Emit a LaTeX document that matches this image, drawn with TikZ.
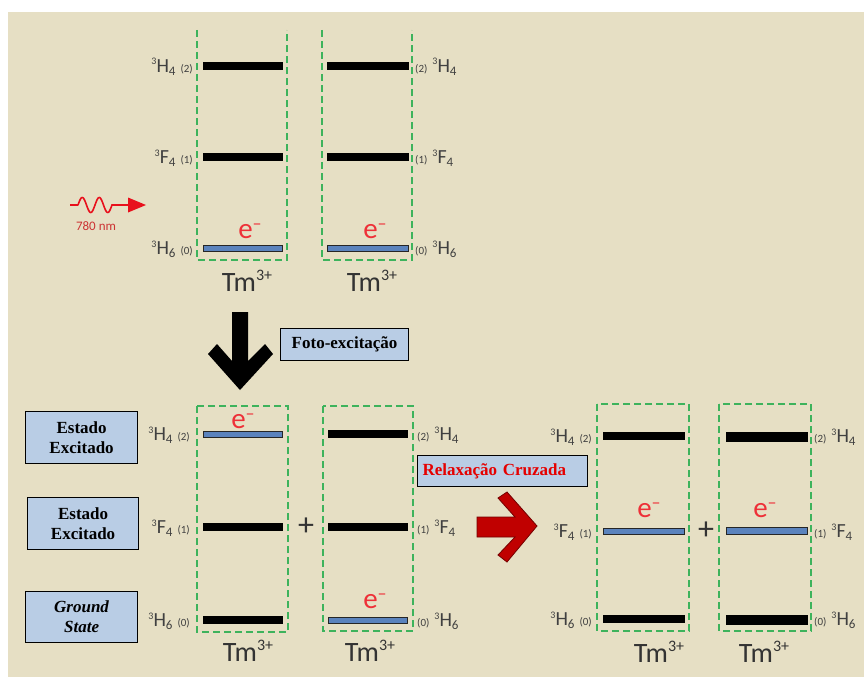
\documentclass[tikz,border=0pt]{standalone}
\usepackage{fontspec}
\setmainfont{Liberation Serif}
\newfontfamily\labfont{Carlito}
\definecolor{bgbeige}{HTML}{E6DFC4}
\definecolor{boxblue}{HTML}{B9CDE5}
\definecolor{dgreen}{HTML}{3DB35C}
\definecolor{barblue}{HTML}{5B83BD}
\definecolor{labgray}{HTML}{404040}
\definecolor{ered}{HTML}{EE3038}
\definecolor{arrred}{HTML}{C00000}
\definecolor{wavered}{HTML}{E8101C}
\newcommand{\lvlL}[3]{\raisebox{7pt}{\fontsize{10}{10}\selectfont 3}#1\raisebox{-3pt}{\fontsize{13}{13}\selectfont #2}\hspace{5pt}{\fontsize{11}{11}\selectfont(#3)}}
\newcommand{\lvlR}[3]{{\fontsize{11}{11}\selectfont(#3)}\hspace{5pt}\raisebox{7pt}{\fontsize{10}{10}\selectfont 3}#1\raisebox{-3pt}{\fontsize{13}{13}\selectfont #2}}
\newcommand{\tmion}{Tm\raisebox{11pt}{\fontsize{16}{16}\selectfont 3+}}
\newcommand{\elec}{e\raisebox{9pt}{\fontsize{18}{18}\selectfont\char"2013}}
\begin{document}
\begin{tikzpicture}[x=1pt,y=-1pt,
  ionbox/.style={draw=dgreen, line width=1.4pt, dash pattern=on 7pt off 4pt},
  bar/.style={fill=black, draw=black, minimum height=7pt, inner sep=0pt, outer sep=0pt},
  ebar/.style={fill=barblue, draw=black!85, line width=0.8pt, minimum height=6pt, inner sep=0pt, outer sep=0pt},
  lvlab/.style={text=labgray, font=\labfont\fontsize{20}{20}\selectfont, inner sep=0pt},
  tmlab/.style={text=black!80, font=\labfont\fontsize{28}{28}\selectfont, inner sep=0pt, anchor=base},
  elab/.style={text=ered, font=\labfont\fontsize{29}{29}\selectfont, inner sep=0pt, anchor=base},
  pluslab/.style={text=black!80, font=\labfont\fontsize{32}{32}\selectfont, inner sep=0pt},
  infobox/.style={draw=black, line width=1.2pt, fill=boxblue, font=\bfseries\fontsize{17}{20}\selectfont, align=center, inner sep=0pt, anchor=north west}
]
\useasboundingbox (0,0) rectangle (864,677);
\fill[white] (0,0) rectangle (864,677);
\fill[bgbeige] (8,12) rectangle (864,677);

% ---------------- top panel ----------------
\draw[ionbox] (197,30) -- (197,260) -- (287,260) -- (287,30);
\draw[ionbox] (322,30) -- (322,260) -- (412,260) -- (412,30);
\node[bar, minimum width=79pt] (t1a) at (242.5,66) {};
\node[bar, minimum width=79pt] (t1b) at (242.5,157) {};
\node[ebar, minimum width=79pt] (t1c) at (242.5,248) {};
\node[bar, minimum width=81pt] (t2a) at (367.5,66) {};
\node[bar, minimum width=81pt] (t2b) at (367.5,157) {};
\node[ebar, minimum width=81pt] (t2c) at (367.5,248) {};
\node[lvlab, anchor=base east] (tl1) at (193,72) {\lvlL{H}{4}{2}};
\node[lvlab, anchor=base east] (tl2) at (193,163) {\lvlL{F}{4}{1}};
\node[lvlab, anchor=base east] (tl3) at (193,254) {\lvlL{H}{6}{0}};
\node[lvlab, anchor=base west] (tr1) at (415,72) {\lvlR{H}{4}{2}};
\node[lvlab, anchor=base west] (tr2) at (415,163) {\lvlR{F}{4}{1}};
\node[lvlab, anchor=base west] (tr3) at (415,254) {\lvlR{H}{6}{0}};
\node[elab] (te1) at (250,238) {\elec};
\node[elab] (te2) at (375,238) {\elec};
\node[tmlab] (ttm1) at (247,291) {\tmion};
\node[tmlab] (ttm2) at (372,291) {\tmion};
% photon
\draw[wavered, line width=1.6pt] (70,205) -- (78,205)
  plot[domain=78:112, samples=60, smooth] (\x, {205 - 7.5*sin(360*(\x-78)/17)}) -- (130,205);
\fill[wavered] (128,197.5) -- (146,205) -- (128,212.5) -- cycle;
\node[text=red!60!gray, font=\labfont\fontsize{13}{13}\selectfont, inner sep=0pt, anchor=base] (nm) at (96,230) {780 nm};

% black arrow
\fill[black] (232,312) -- (248,312) -- (248,361) -- (265,344) -- (273,354) -- (240,390) -- (208,354) -- (217,344) -- (232,361) -- cycle;
\node[infobox, minimum width=128pt, minimum height=32pt] (foto) at (280,328) {Foto-excitação};

% ---------------- bottom-left panel ----------------
\node[infobox, minimum width=112pt, minimum height=52pt] (ee1) at (25,411) {Estado\\Excitado};
\node[infobox, minimum width=111pt, minimum height=52pt] (ee2) at (27,497) {Estado\\Excitado};
\node[infobox, minimum width=112pt, minimum height=51pt, font=\bfseries\itshape\fontsize{17}{20}\selectfont] (gs) at (25,591) {Ground\\State};

\draw[ionbox] (197,406) rectangle (288,632);
\draw[ionbox] (323,406) rectangle (413,631);
\node[ebar, minimum width=79pt] (b1a) at (242.5,434) {};
\node[bar, minimum width=79pt] (b1b) at (242.5,527) {};
\node[bar, minimum width=79pt] (b1c) at (242.5,620) {};
\node[bar, minimum width=79pt] (b2a) at (367.5,434) {};
\node[bar, minimum width=79pt] (b2b) at (367.5,527) {};
\node[ebar, minimum width=79pt] (b2c) at (367.5,620) {};
\node[lvlab, anchor=base east] (bl1) at (190,440) {\lvlL{H}{4}{2}};
\node[lvlab, anchor=base east] (bl2) at (190,533) {\lvlL{F}{4}{1}};
\node[lvlab, anchor=base east] (bl3) at (190,626) {\lvlL{H}{6}{0}};
\node[lvlab, anchor=base west] (br1) at (417,440) {\lvlR{H}{4}{2}};
\node[lvlab, anchor=base west] (br2) at (417,533) {\lvlR{F}{4}{1}};
\node[lvlab, anchor=base west] (br3) at (417,626) {\lvlR{H}{6}{0}};
\node[elab] (be1) at (243,428) {\elec};
\node[elab] (be2) at (375,608) {\elec};
\node[pluslab] (plus1) at (306,527) {+};
\node[tmlab] (btm1) at (248,661) {\tmion};
\node[tmlab] (btm2) at (370,661) {\tmion};

% red arrow
\node[infobox, minimum width=170pt, minimum height=31pt, text=red!90!black, align=left, text width=160pt] (relax) at (417,455) {Relaxação Cruzada};
\draw[fill=arrred, draw=arrred!60!black, line width=0.8pt] (477,517) -- (515,517) -- (498,498) -- (507,492) -- (537,526) -- (507,562) -- (498,555) -- (515,537) -- (477,537) -- cycle;

% ---------------- right panel ----------------
\draw[ionbox] (597,404) rectangle (689,631);
\draw[ionbox] (719,404) rectangle (811,631);
\node[bar, minimum width=81pt] (r1a) at (643.5,436) {};
\node[ebar, minimum width=81pt] (r1b) at (643.5,531) {};
\node[bar, minimum width=81pt] (r1c) at (643.5,619) {};
\node[bar, minimum width=81pt, minimum height=9pt] (r2a) at (766.5,437) {};
\node[ebar, minimum width=81pt, minimum height=7pt] (r2b) at (766.5,531) {};
\node[bar, minimum width=81pt, minimum height=9pt] (r2c) at (766.5,620) {};
\node[lvlab, anchor=base east] (rl1) at (592,442) {\lvlL{H}{4}{2}};
\node[lvlab, anchor=base east] (rl2) at (592,537) {\lvlL{F}{4}{1}};
\node[lvlab, anchor=base east] (rl3) at (592,625) {\lvlL{H}{6}{0}};
\node[lvlab, anchor=base west] (rr1) at (814,442) {\lvlR{H}{4}{2}};
\node[lvlab, anchor=base west] (rr2) at (814,537) {\lvlR{F}{4}{1}};
\node[lvlab, anchor=base west] (rr3) at (814,625) {\lvlR{H}{6}{0}};
\node[elab] (re1) at (649,517) {\elec};
\node[elab] (re2) at (765,517) {\elec};
\node[pluslab] (plus2) at (706,531) {+};
\node[tmlab] (rtm1) at (659,662) {\tmion};
\node[tmlab] (rtm2) at (764,662) {\tmion};
\end{tikzpicture}
\end{document}
